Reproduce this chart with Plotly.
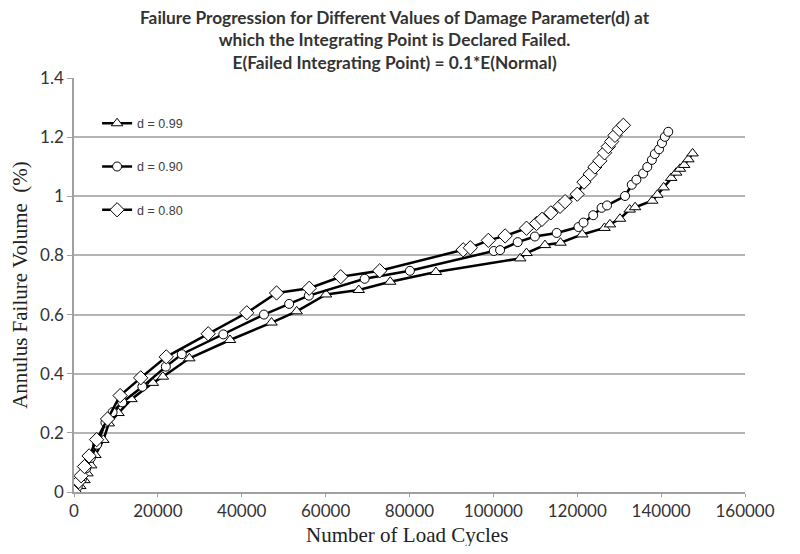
import plotly.graph_objects as go

# d = 0.80 (diamonds)
x_d080 = [0, 1100, 1700, 2500, 3600, 5400, 8000, 11000, 15900, 22000, 32000, 41200, 48300, 56100,
          63600, 72900, 92800, 94500, 98800, 102800, 107900, 110300, 111600, 113700, 115900, 117100,
          120000, 121600, 123100, 124200, 125400, 126500, 127400, 128200, 129000, 130000, 131000]
y_d080 = [0, 0.035, 0.055, 0.086, 0.122, 0.177, 0.247, 0.326, 0.386, 0.457, 0.535, 0.606, 0.673, 0.689,
          0.728, 0.748, 0.819, 0.826, 0.851, 0.866, 0.892, 0.908, 0.922, 0.944, 0.966, 0.982,
          1.007, 1.048, 1.075, 1.099, 1.12, 1.147, 1.168, 1.185, 1.206, 1.226, 1.24]

# d = 0.90 (circles)
x_d090 = [0, 900, 1900, 2900, 4000, 5500, 7500, 9200, 11500, 16300, 21900, 25700, 35600, 45300, 51300,
          56000, 69300, 80100, 100100, 101600, 105800, 109900, 115100, 120300, 121500, 123800, 125800,
          127100, 131400, 133000, 134100, 135700, 136700, 137800, 138500, 139500, 140200, 140900, 141700]
y_d090 = [0, 0.018, 0.045, 0.08, 0.115, 0.16, 0.235, 0.27, 0.303, 0.356, 0.424, 0.466, 0.533, 0.6, 0.636,
          0.664, 0.721, 0.748, 0.815, 0.818, 0.845, 0.864, 0.876, 0.896, 0.911, 0.936, 0.961,
          0.969, 1.001, 1.039, 1.056, 1.077, 1.099, 1.123, 1.143, 1.159, 1.18, 1.201, 1.218]

# d = 0.99 (triangles)
x_d099 = [0, 1500, 2500, 3200, 4100, 5100, 7000, 8300, 10600, 13700, 18800, 21200, 27500, 37200, 47100,
          53100, 60100, 67900, 75400, 86300, 106400, 107900, 112300, 116000, 121200, 126500, 127800,
          130200, 132500, 133800, 137900, 139100, 140600, 142400, 143600, 144500, 145500, 146500, 147500]
y_d099 = [0, 0.02, 0.04, 0.063, 0.09, 0.125, 0.176, 0.232, 0.267, 0.314, 0.369, 0.39, 0.452, 0.514, 0.573,
          0.611, 0.668, 0.683, 0.711, 0.744, 0.79, 0.808, 0.835, 0.843, 0.871, 0.893, 0.905,
          0.924, 0.955, 0.963, 0.985, 1.005, 1.03, 1.062, 1.08, 1.093, 1.106, 1.125, 1.145]

x_ticks = [0, 20000, 40000, 60000, 80000, 100000, 120000, 140000, 160000]
y_ticks = [0, 0.2, 0.4, 0.6, 0.8, 1, 1.2, 1.4]
y_tick_text = ["0", "0.2", "0.4", "0.6", "0.8", "1", "1.2", "1.4"]

title_lines = [
    "Failure Progression for Different Values of Damage Parameter(d) at",
    "which the Integrating Point is Declared Failed.",
    "E(Failed Integrating Point) = 0.1*E(Normal)",
]
x_title = "Number of Load Cycles"
y_title = "Annulus Failure Volume\u00a0\u00a0(%)"

series = [
    ("d = 0.99", x_d099, y_d099, "triangle-up", 10),
    ("d = 0.90", x_d090, y_d090, "circle", 9),
    ("d = 0.80", x_d080, y_d080, "diamond", 11),
]

fig = go.Figure()
for i, (name, xs, ys, sym, sz) in enumerate(series):
    fig.add_trace(go.Scatter(
        x=xs, y=ys, name=name, mode="lines+markers", legendgroup=f"g{i}",
        line=dict(color="black", width=2.5),
        marker=dict(symbol=sym, size=sz, color="white", line=dict(color="black", width=1)),
    ))

tick_font = dict(family="Lato, Carlito, sans-serif", size=17, color="#333333")
serif = dict(family="Liberation Serif, Times New Roman, serif", size=21, color="#222222")

# page has an 8px body margin, so the figure is 784x538 and coordinates are shifted by 8px
fig.add_annotation(
    text="<br>".join(title_lines), xref="paper", yref="paper",
    x=0.478, y=1 + (70 - 32) / 414, xanchor="center", yanchor="middle", showarrow=False, align="center",
    font=dict(family="Lato, Carlito, sans-serif", size=17.3, color="#333333", weight="bold"),
)
fig.add_annotation(
    text=x_title, xref="paper", yref="paper", height=22,
    x=0.497, y=-(527 - 484) / 414, xanchor="center", yanchor="middle", showarrow=False,
    font=serif,
)

fig.update_layout(
    width=784, height=538,
    paper_bgcolor="white", plot_bgcolor="white",
    margin=dict(l=66, r=47, t=70, b=54, autoexpand=False),
    legend=dict(
        x=0.0344, y=0.926, xanchor="left", yanchor="top",
        bgcolor="rgba(0,0,0,0)", tracegroupgap=24, itemwidth=30,
        font=dict(family="Liberation Sans, Arial, sans-serif", size=12.5, color="#404040"),
    ),
    showlegend=True,
    xaxis=dict(
        range=[0, 160000], tickvals=x_ticks, ticktext=[str(v) for v in x_ticks],
        showgrid=False, zeroline=False, showline=True, linecolor="#a0a0a0", linewidth=1.5,
        ticks="outside", ticklen=3, tickcolor="#a0a0a0", tickfont=tick_font, automargin=False,
    ),
    yaxis=dict(
        range=[0, 1.4], tickvals=y_ticks, ticktext=y_tick_text,
        showgrid=True, gridcolor="#b4b4b4", gridwidth=1.5, zeroline=False,
        showline=True, linecolor="#a0a0a0", linewidth=1.5,
        ticks="outside", ticklen=5, tickcolor="#a0a0a0", tickfont=tick_font, automargin=False,
        title=dict(text=y_title, standoff=10, font=serif),
    ),
)

fig.write_html("out.html")
